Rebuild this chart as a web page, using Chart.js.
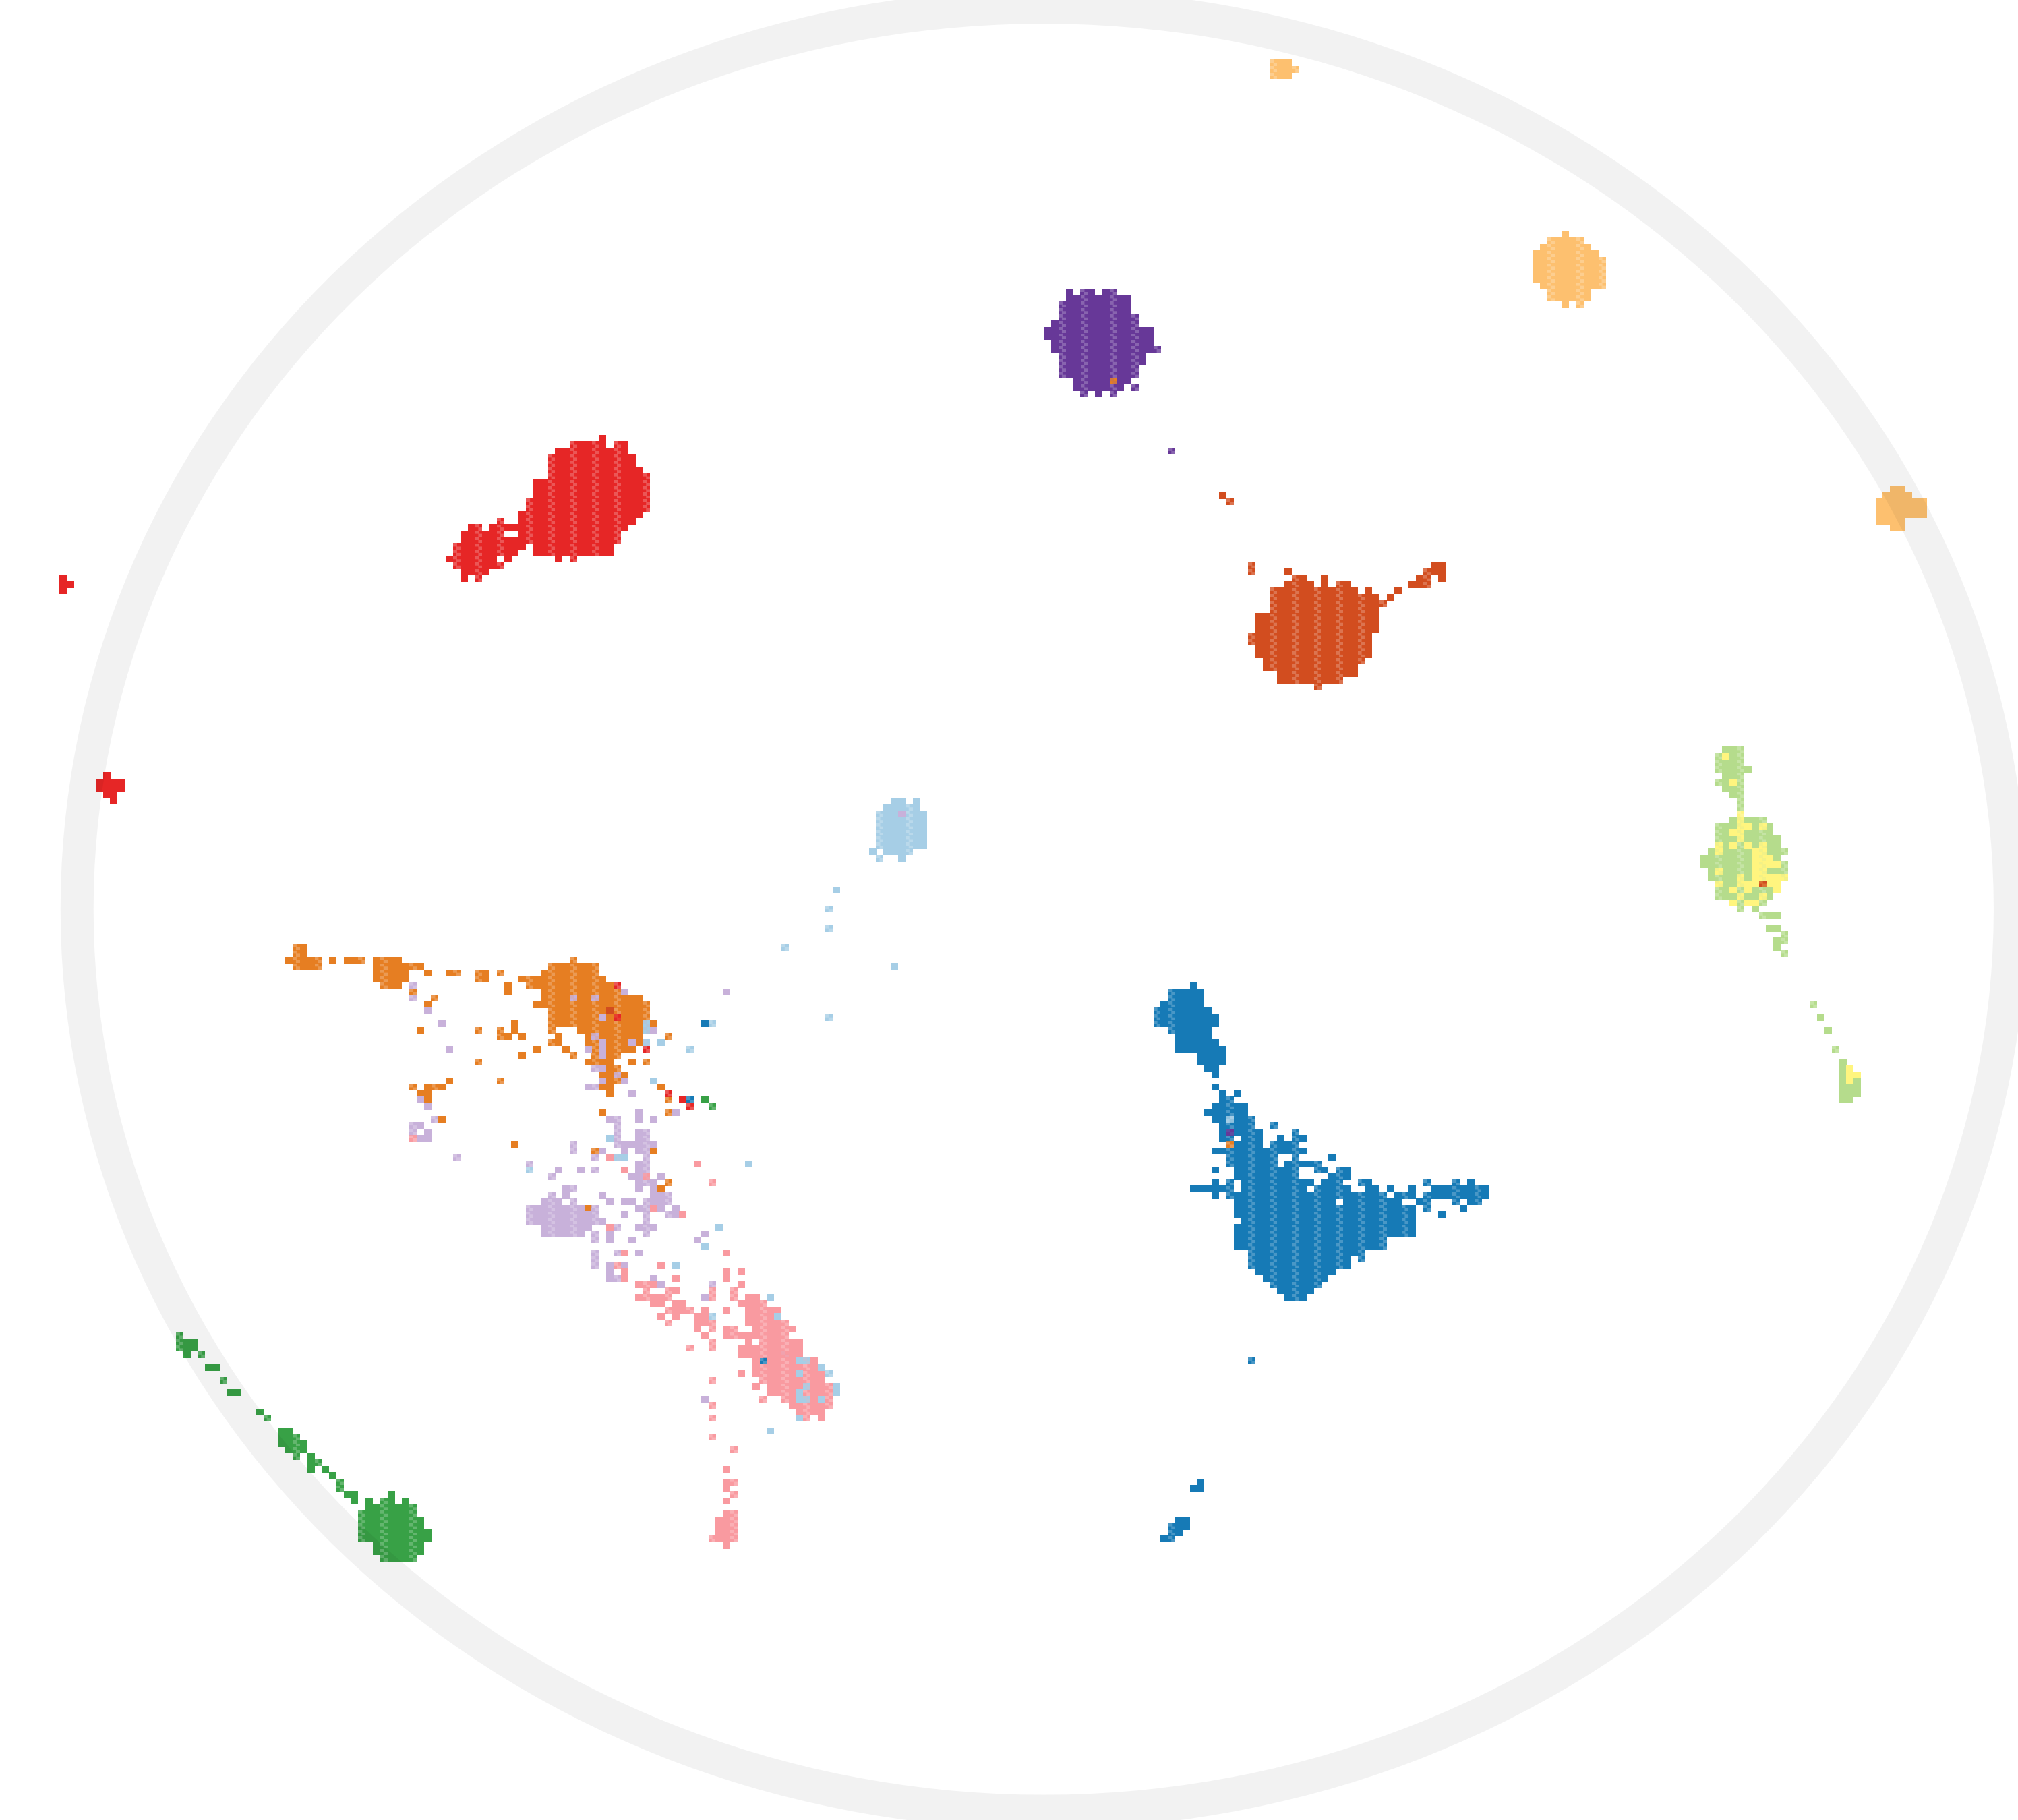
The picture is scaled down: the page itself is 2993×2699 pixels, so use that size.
<!DOCTYPE html>
<html>
<head>
<meta charset="utf-8">
<title>Cluster map</title>
<script src="https://cdn.jsdelivr.net/npm/chart.js@4"></script>
<style>
html,body{margin:0;padding:0;background:#fff;overflow:hidden}
canvas{display:block}
</style>
</head>
<body>
<canvas id="mapChart" width="2993" height="2699"></canvas>
<script>
// =========================================
// Data: [row, first column, last column]
// =========================================

const blueRuns = [[154,163,163],[155,160,164],[156,160,164],[157,159,164],[158,158,165],[159,158,166],[160,158,166],[161,160,165],[162,161,165],[163,161,166],[164,161,167],[165,164,167],[166,164,167],[167,165,166],[168,166,166],
[170,166,166],[171,167,167],[171,169,169],[172,167,168],[173,166,170],[174,165,170],[175,166,171],[176,167,171],[176,174,174],[177,167,172],[177,177,177],[178,167,168],[178,170,172],[178,175,175],[178,177,178],[179,169,172],[179,174,177],[180,166,178],[181,168,174],[181,177,177],[181,182,182],[182,168,174],[182,176,180],[183,166,166],[183,169,177],[183,180,181],[183,183,184],[184,169,177],[184,182,184],[185,166,166],[185,168,168],[185,170,179],[185,181,183],[185,186,187],[185,195,195],[185,199,199],[185,201,201],
[186,163,168],[186,170,178],[186,180,184],[186,187,188],[186,190,190],[186,193,193],[186,196,203],[187,166,166],[187,168,189],[187,191,193],[187,195,195],[187,196,203],[188,169,182],[188,184,191],[188,194,195],[188,199,199],[188,201,202],[189,169,193],[189,195,195],[189,200,200],[190,169,193],[190,197,197],[191,170,193],[192,169,193],[193,169,193],[194,169,189],[195,169,189],[196,171,186],[197,171,184],[197,186,186],[198,171,184],[199,172,182],[200,173,181],[201,174,180],[202,175,179],[203,176,178],
[213,171,171],[232,164,164],[233,163,164],[238,161,162],[239,160,162],[240,160,161],[241,159,160],[160,96,96],[172,94,94],[213,104,104]];
const redOrangeRuns = [[77,167,167],[78,168,168],[88,171,171],[88,196,197],[89,171,171],[89,176,176],[89,195,197],[90,177,178],[90,181,181],[90,194,195],[90,197,197],[91,176,179],[91,181,181],[91,183,184],[91,193,195],[92,174,185],[92,187,187],[92,191,191],[93,174,188],[93,190,190],[94,174,189],[95,174,188],[96,172,188],[97,172,188],[98,172,188],[99,171,187],[100,171,187],[101,172,187],[102,172,187],[103,173,186],[104,173,185],[105,175,185],[106,175,183],[107,180,180],[158,83,83],[138,241,241]];
const purpleRuns = [[45,146,146],[45,148,149],[45,151,152],[46,146,154],[47,145,154],[48,145,154],[49,145,155],[50,144,155],[51,143,157],[52,143,157],[53,144,157],[54,144,158],[55,145,156],[56,145,156],[57,145,155],[58,145,155],[59,147,154],[60,147,153],[60,155,155],[61,148,148],[61,150,150],[61,152,152],[70,160,160],[177,168,168]];
const amberRuns = [[9,174,176],[10,174,177],[11,174,176],[36,214,214],[37,212,216],[38,211,217],[39,210,218],[40,210,219],[41,210,219],[42,210,219],[43,210,219],[44,211,219],[45,212,217],[46,212,217],[47,214,214],[47,216,216],[76,259,260],[77,258,261],[78,257,263],[79,257,263],[80,257,263],[81,257,260],[82,259,260]];
const redRuns = [[68,82,82],[69,78,82],[69,84,85],[70,76,85],[71,75,86],[72,75,86],[73,75,87],[74,75,88],[75,73,88],[76,73,88],[77,73,88],[78,72,88],[79,72,88],[80,71,87],[81,68,68],[81,71,86],[82,64,65],[82,67,85],[83,63,68],[83,71,84],[84,63,84],[85,62,71],[85,73,83],[86,62,70],[86,73,83],[87,61,67],[87,69,69],[87,76,76],[87,78,78],[88,62,68],[89,63,66],[90,63,63],[90,65,65],
[90,8,8],[91,8,9],[92,8,8],[121,14,14],[122,13,16],[123,13,16],[124,14,15],[125,15,15],[154,84,84],[159,84,84],[164,88,88],[171,91,91],[172,93,93],[173,94,94]];
const greenRuns = [[209,24,24],[210,24,26],[211,24,26],[212,25,25],[212,27,27],[214,28,29],[216,30,30],[218,31,32],[221,35,35],[222,36,36],[224,38,39],[225,38,40],[226,38,41],[227,39,41],[228,40,40],[228,42,42],[229,42,43],[230,42,42],[230,44,44],[231,45,45],[232,46,46],[233,46,46],[234,47,48],[234,53,53],[235,48,48],[235,50,50],[235,52,53],[235,55,55],[236,50,56],[237,49,56],[238,49,57],[239,49,57],[240,49,58],[241,49,58],[242,51,57],[243,51,57],[244,52,56],[172,96,96],[173,97,97]];
const lightGreenRuns = [[117,236,238],[118,235,238],[119,235,238],[120,235,239],[121,236,238],[122,235,238],[123,236,238],[124,237,238],[125,238,238],[126,238,238],[128,237,241],[129,235,242],[130,235,242],[131,235,243],[132,235,243],[133,234,244],[134,233,243],[135,233,244],[136,234,244],[137,234,244],[138,235,243],[139,235,243],[140,235,242],[141,237,241],[142,238,238],[142,240,240],[143,241,243],[145,242,243],[146,244,244],[147,243,244],[148,243,243],[149,244,244],
[157,248,248],[159,249,249],[161,250,250],[164,251,251],[166,252,252],[167,252,253],[168,252,253],[169,252,254],[170,252,254],[171,252,254],[172,252,253]];
const yellowRuns = [[118,236,236],[122,237,237],[127,238,238],[128,238,238],[129,238,239],[129,241,241],[130,237,238],[131,238,238],[132,235,235],[132,237,237],[132,239,239],[132,241,241],[133,235,235],[133,240,241],[134,240,242],[135,240,243],[136,235,235],[136,240,241],[137,238,238],[137,240,244],[138,235,235],[138,238,243],[139,237,237],[139,239,239],[139,243,243],[140,238,238],[140,241,241],[141,237,237],[141,239,240],[167,253,253],[168,253,254],[169,253,253]];
const orangeRuns = [[148,40,41],[149,40,41],[150,39,43],[150,45,45],[150,47,49],[150,51,54],[150,78,78],[151,40,43],[151,51,55],[151,56,57],[151,75,81],[152,51,55],[152,58,58],[152,61,62],[152,65,66],[152,68,68],[152,74,81],[153,51,55],[153,65,66],[153,71,71],[153,72,82],[154,52,54],[154,69,69],[154,72,83],[155,56,56],[155,69,69],[155,74,84],[156,59,59],[156,74,87],[157,58,58],[157,73,88],[158,75,88],[159,75,88],[160,70,70],[160,75,89],
[161,57,57],[161,65,65],[161,68,68],[161,70,70],[161,75,75],[161,79,88],[162,68,69],[162,71,71],[162,76,76],[162,80,87],[162,91,91],[163,75,76],[163,80,87],[164,73,73],[164,77,77],[164,81,86],[165,71,71],[165,78,78],[165,81,84],[166,65,65],[166,80,83],[166,86,86],[166,88,88],[167,83,84],[168,82,85],[169,61,61],[169,68,68],[169,83,84],[170,56,56],[170,58,60],[170,82,83],[170,90,90],[171,57,58],[171,83,83],[172,58,58],[172,91,91],[174,82,82],[174,91,91],[175,60,60],[179,70,70],[180,81,81],[180,89,89],[185,91,91],[186,90,90],[189,80,80],[59,152,152],[179,168,168]];
const lilacRuns = [[154,56,56],[155,85,85],[155,99,99],[156,56,56],[156,78,78],[156,81,81],[158,58,58],[159,82,82],[160,60,60],[160,88,88],[161,88,89],[162,81,81],[163,82,82],[163,86,86],[163,88,88],[164,61,61],[164,80,80],[164,82,82],[165,82,82],[167,81,82],[168,84,84],[169,82,82],[169,85,85],[170,80,81],[171,86,86],[172,57,57],[173,58,58],[174,87,87],[174,92,92],[175,59,59],[175,83,84],[175,87,87],[175,89,89],
[176,56,57],[176,84,84],[177,56,56],[177,58,58],[177,84,84],[177,87,88],[178,57,58],[178,84,84],[178,87,88],[179,78,78],[179,84,89],[180,78,78],[180,82,82],[180,85,85],[180,87,88],[181,62,62],[181,81,81],[181,84,84],[181,88,88],[182,72,72],[182,87,88],[183,76,76],[183,79,79],[183,81,81],[183,87,88],[184,75,75],[184,86,88],[184,90,90],[185,87,89],[186,77,78],[186,87,87],[186,89,89],[187,75,75],[187,77,77],[187,82,82],[187,89,91],[188,74,76],[188,78,78],[188,83,83],[188,85,86],[188,88,91],[189,72,79],[189,81,81],[189,87,88],[189,90,90],[189,92,92],[190,72,81],[190,85,85],[190,88,88],[190,91,92],[191,72,82],[191,88,88],[192,74,80],[192,84,84],[192,87,89],[193,74,79],[193,81,81],[193,83,83],[193,88,88],[193,96,96],[194,81,81],[194,83,83],[194,86,86],[194,95,95],[196,81,81],[196,84,84],[196,87,87],[197,81,81],[198,81,81],[198,83,83],[198,85,85],[199,83,83],[200,83,84],[200,89,89],[201,90,90],[201,97,97],[203,96,96],[212,107,107],[219,96,96],[127,123,123]];
const pinkRuns = [[178,56,56],[181,83,83],[181,85,85],[182,95,95],[183,85,85],[184,88,88],[185,97,97],[189,89,89],[190,93,93],[192,83,83],[196,85,85],[196,99,99],[198,84,84],[198,90,90],[199,85,85],[199,99,99],[199,101,101],[200,85,85],[200,92,92],[200,99,99],[201,87,89],[201,101,101],[202,88,88],[202,91,92],[202,97,97],[202,100,100],[203,87,91],[203,97,97],[203,100,100],[203,102,103],[204,89,90],[204,92,93],[204,101,104],[205,91,94],[205,96,96],[205,99,99],[205,102,106],[206,90,90],[206,92,92],[206,95,96],[206,102,106],[207,91,91],[207,95,97],[207,102,107],[208,95,95],[208,97,97],[208,99,100],[208,103,108],[209,96,96],[209,99,107],[210,97,97],[210,102,102],[210,104,109],[211,94,94],[211,97,97],[211,101,109],[212,101,109],[213,103,103],[213,105,111],[214,103,111],[215,101,101],[215,103,112],[216,97,97],[216,104,112],[217,103,103],[217,105,113],[218,105,113],[219,104,104],[219,107,113],[220,97,97],[220,108,113],[221,109,112],[222,97,97],[222,110,110],[222,112,112],[225,97,97],[227,100,100],[230,99,99],[232,99,100],[233,99,99],[234,100,100],[235,99,99],[237,99,100],[238,98,100],[239,98,100],[240,98,100],[241,97,100],[242,99,99]];
const paleBlueRuns = [[125,122,122],[125,123,123],[125,125,125],[126,121,125],[127,120,122],[127,124,126],[128,120,126],[129,120,126],[130,120,126],[131,120,126],[132,120,126],[133,119,119],[133,121,124],[134,120,120],[134,123,123],[139,114,114],[142,113,113],[145,113,113],[148,107,107],[151,122,122],[159,113,113],[160,88,88],[160,97,97],[161,88,88],[163,88,88],[163,90,90],[164,94,94],[169,89,89],[175,168,168],[178,83,83],[181,84,85],[182,102,102],[183,72,72],[192,98,98],[195,96,96],[198,92,92],[203,105,105],[206,106,106],[206,97,97],[213,109,110],[214,112,112],[215,109,109],[215,113,113],[217,110,110],[217,114,114],[218,109,109],[218,114,114],[219,109,110],[219,112,112],[222,109,109],[224,105,105]];

// columns that come out dithered in the picture
const ditherCols = [24,27,30,36,40,43,46,49,52,56,59,62,65,68,72,75,78,81,84,88,91,94,97,100,104,107,110,113,120,124,127,145,148,152,155,158,160,168,171,174,177,180,183,186,189,192,195,199,202,212,216,219,235,238,241,244,248,251];

// grey ring, in column and row units
const ringCenterX = 142.45;
const ringCenterY = 142.0;
const ringOuterX = 134.77;
const ringOuterY = 144.55;
const ringInnerX = 130.24;
const ringInnerY = 139.17;

// =========================================
// Cell images
// =========================================

function makeCell(color, dither){
    let c = document.createElement("canvas");
    c.width = 11;
    c.height = 10;
    let g = c.getContext("2d");
    g.fillStyle = color;
    g.fillRect(0,0,11,10);
    if(dither){
        g.clearRect(0,0,6,5);
        g.clearRect(5,5,6,5);
        g.globalAlpha = 0.78;
        g.fillRect(0,0,6,5);
        g.fillRect(5,5,6,5);
    }
    return c;
}

function runsToPoints(runs){
    let points = [];
    runs.forEach((run)=>{
        for(let col = run[1]; col <= run[2]; col++){
            points.push({x: col, y: run[0]});
        }
    });
    return points;
}

function makeDataset(runs, color){
    let solid = makeCell(color, false);
    let dithered = makeCell(color, true);
    return {
        data: runsToPoints(runs),
        showLine: false,
        pointRadius: 5,
        pointStyle: (ctx)=> (ctx.raw && ditherCols.includes(ctx.raw.x)) ? dithered : solid
    };
}

// =========================================
// Ring, laid over the cells
// =========================================

const ringPlugin = {
    id: "ring",
    afterDatasetsDraw(chart){
        let g = chart.ctx;
        let x = chart.scales.x;
        let y = chart.scales.y;
        let cx = x.getPixelForValue(ringCenterX);
        let cy = y.getPixelForValue(ringCenterY);
        g.save();
        g.fillStyle = "rgba(0,0,0,0.05)";
        g.beginPath();
        g.ellipse(cx, cy, Math.abs(x.getPixelForValue(ringCenterX + ringOuterX) - cx), Math.abs(y.getPixelForValue(ringCenterY + ringOuterY) - cy), 0, 0, Math.PI*2);
        g.ellipse(cx, cy, Math.abs(x.getPixelForValue(ringCenterX + ringInnerX) - cx), Math.abs(y.getPixelForValue(ringCenterY + ringInnerY) - cy), 0, 0, Math.PI*2);
        g.fill("evenodd");
        g.restore();
    }
};

// =========================================
// Chart (first dataset is drawn on top)
// =========================================

let ctx = document.getElementById("mapChart").getContext("2d");

let mapChart = new Chart(ctx, {
    type: "scatter",
    data: {
        datasets: [
            makeDataset(redRuns, "#e62626"),
            makeDataset(redOrangeRuns, "#d24d1f"),
            makeDataset(paleBlueRuns, "#a6cee6"),
            makeDataset(pinkRuns, "#f99aa0"),
            makeDataset(lilacRuns, "#c8b1da"),
            makeDataset(orangeRuns, "#e67e22"),
            makeDataset(yellowRuns, "#fff57f"),
            makeDataset(lightGreenRuns, "#b5dc8c"),
            makeDataset(greenRuns, "#38a146"),
            makeDataset(amberRuns, "#fdc06f"),
            makeDataset(purpleRuns, "#673898"),
            makeDataset(blueRuns, "#167ab6")
        ]
    },
    options: {
        responsive: false,
        devicePixelRatio: 1,
        animation: false,
        events: [],
        layout: { padding: 0 },
        plugins: {
            legend: { display: false },
            tooltip: { enabled: false }
        },
        scales: {
            x: { type: "linear", display: false, min: -0.0596, max: 275.47 },
            y: { type: "linear", display: false, reverse: true, min: -0.2495, max: 284.51 }
        }
    },
    plugins: [ringPlugin]
});
</script>
</body>
</html>
